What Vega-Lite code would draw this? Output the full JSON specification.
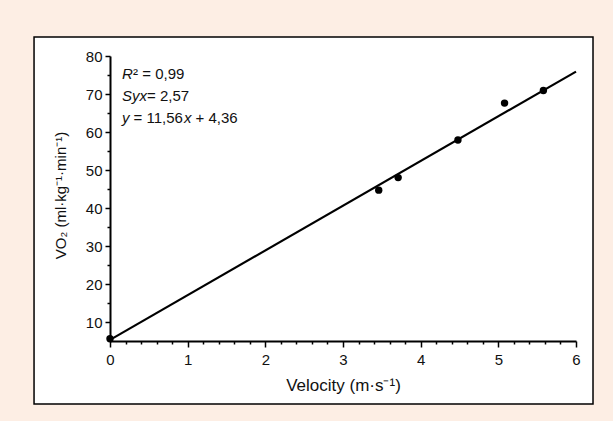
{
  "$schema": "https://vega.github.io/schema/vega-lite/v6.json",
  "width": 466,
  "height": 285,
  "autosize": {"type": "none"},
  "padding": {"left": 110, "top": 56, "right": 37, "bottom": 80},
  "background": "#fdeee4",
  "config": {
    "view": {"stroke": null},
    "font": "Liberation Sans",
    "axis": {
      "grid": false,
      "labelFlush": false,
      "domainColor": "#000000",
      "domainWidth": 2,
      "tickColor": "#000000",
      "tickWidth": 1.5,
      "labelFont": "Liberation Sans",
      "labelFontSize": 15,
      "labelColor": "#111111",
      "titleFont": "Liberation Sans",
      "titleFontSize": 15,
      "titleFontWeight": "normal",
      "titleColor": "#111111"
    }
  },
  "data": {"values": [{"note": "annotation"}]},
  "datasets": {
    "points": [
      {"velocity": 0, "vo2": 5.6},
      {"velocity": 3.46, "vo2": 44.7},
      {"velocity": 3.71, "vo2": 48.0},
      {"velocity": 4.48, "vo2": 57.9},
      {"velocity": 5.08, "vo2": 67.6},
      {"velocity": 5.58, "vo2": 70.9}
    ],
    "fit": [
      {"velocity": 0, "vo2": 5.3},
      {"velocity": 6, "vo2": 75.9}
    ]
  },
  "resolve": {"axis": {"x": "independent", "y": "independent"}},
  "layer": [
    {
      "mark": {"type": "rect", "fill": "#ffffff", "stroke": "#000000", "strokeWidth": 1.5, "clip": false},
      "encoding": {
        "x": {"datum": -0.978, "type": "quantitative", "scale": {"domain": [0, 6], "nice": false, "zero": false}, "axis": null},
        "x2": {"datum": 6.219},
        "y": {"datum": 85.0, "type": "quantitative", "scale": {"domain": [5, 80], "nice": false, "zero": false}, "axis": null},
        "y2": {"datum": -11.58}
      }
    },
    {
      "data": {"name": "fit"},
      "mark": {"type": "line", "color": "#000000", "strokeWidth": 2.2, "clip": false},
      "encoding": {
        "x": {"field": "velocity", "type": "quantitative", "scale": {"domain": [0, 6], "nice": false, "zero": false},
          "axis": {"orient": "bottom", "zindex": 2, "values": [0.2,0.4,0.6,0.8,1.2,1.4,1.6,1.8,2.2,2.4,2.6,2.8,3.2,3.4,3.6,3.8,4.2,4.4,4.6,4.8,5.2,5.4,5.6,5.8], "tickSize": 3, "labels": false, "domain": false, "title": null}},
        "y": {"field": "vo2", "type": "quantitative", "scale": {"domain": [5, 80], "nice": false, "zero": false},
          "axis": {"orient": "left", "zindex": 2, "values": [15,25,35,45,55,65,75], "tickSize": 3, "labels": false, "domain": false, "title": null}}
      }
    },
    {
      "data": {"name": "points"},
      "mark": {"type": "circle", "color": "#000000", "opacity": 1, "size": 55, "clip": false},
      "encoding": {
        "x": {"field": "velocity", "type": "quantitative", "scale": {"domain": [0, 6], "nice": false, "zero": false},
          "axis": {"orient": "bottom", "zindex": 2, "values": [0,1,2,3,4,5,6], "format": "d", "tickSize": 6, "labelPadding": 5, "title": "Velocity (m·s⁻¹)", "titleFontSize": 17, "titlePadding": 10}},
        "y": {"field": "vo2", "type": "quantitative", "scale": {"domain": [5, 80], "nice": false, "zero": false},
          "axis": {"orient": "left", "zindex": 2, "values": [10,20,30,40,50,60,70,80], "format": "d", "tickSize": 5, "labelPadding": 3, "title": "VO₂ (ml·kg⁻¹·min⁻¹)", "titleFontSize": 15, "titleAnchor": "middle", "titleY": 139, "titlePadding": 17}}
      }
    },
    {
      "mark": {"type": "text", "text": "R", "fontStyle": "italic", "fontSize": 15, "align": "left", "baseline": "alphabetic", "color": "#111111", "clip": false},
      "encoding": {
        "x": {"datum": 0.155, "type": "quantitative", "scale": {"domain": [0, 6], "nice": false, "zero": false}, "axis": null},
        "y": {"datum": 73.95, "type": "quantitative", "scale": {"domain": [5, 80], "nice": false, "zero": false}, "axis": null}
      }
    },
    {
      "mark": {"type": "text", "text": "²\u00a0=\u00a00,99", "fontSize": 15, "align": "left", "baseline": "alphabetic", "dx": 11, "color": "#111111", "clip": false},
      "encoding": {
        "x": {"datum": 0.155, "type": "quantitative", "scale": {"domain": [0, 6], "nice": false, "zero": false}, "axis": null},
        "y": {"datum": 73.95, "type": "quantitative", "scale": {"domain": [5, 80], "nice": false, "zero": false}, "axis": null}
      }
    },
    {
      "mark": {"type": "text", "text": "Syx", "fontStyle": "italic", "fontSize": 15, "align": "left", "baseline": "alphabetic", "color": "#111111", "clip": false},
      "encoding": {
        "x": {"datum": 0.155, "type": "quantitative", "scale": {"domain": [0, 6], "nice": false, "zero": false}, "axis": null},
        "y": {"datum": 68.16, "type": "quantitative", "scale": {"domain": [5, 80], "nice": false, "zero": false}, "axis": null}
      }
    },
    {
      "mark": {"type": "text", "text": "=\u00a02,57", "fontSize": 15, "align": "left", "baseline": "alphabetic", "dx": 25, "color": "#111111", "clip": false},
      "encoding": {
        "x": {"datum": 0.155, "type": "quantitative", "scale": {"domain": [0, 6], "nice": false, "zero": false}, "axis": null},
        "y": {"datum": 68.16, "type": "quantitative", "scale": {"domain": [5, 80], "nice": false, "zero": false}, "axis": null}
      }
    },
    {
      "mark": {"type": "text", "text": "y", "fontStyle": "italic", "fontSize": 15, "align": "left", "baseline": "alphabetic", "color": "#111111", "clip": false},
      "encoding": {
        "x": {"datum": 0.155, "type": "quantitative", "scale": {"domain": [0, 6], "nice": false, "zero": false}, "axis": null},
        "y": {"datum": 62.4, "type": "quantitative", "scale": {"domain": [5, 80], "nice": false, "zero": false}, "axis": null}
      }
    },
    {
      "mark": {"type": "text", "text": "=\u00a011,56", "fontSize": 15, "align": "left", "baseline": "alphabetic", "dx": 11.5, "color": "#111111", "clip": false},
      "encoding": {
        "x": {"datum": 0.155, "type": "quantitative", "scale": {"domain": [0, 6], "nice": false, "zero": false}, "axis": null},
        "y": {"datum": 62.4, "type": "quantitative", "scale": {"domain": [5, 80], "nice": false, "zero": false}, "axis": null}
      }
    },
    {
      "mark": {"type": "text", "text": "x", "fontStyle": "italic", "fontSize": 15, "align": "left", "baseline": "alphabetic", "dx": 62, "color": "#111111", "clip": false},
      "encoding": {
        "x": {"datum": 0.155, "type": "quantitative", "scale": {"domain": [0, 6], "nice": false, "zero": false}, "axis": null},
        "y": {"datum": 62.4, "type": "quantitative", "scale": {"domain": [5, 80], "nice": false, "zero": false}, "axis": null}
      }
    },
    {
      "mark": {"type": "text", "text": "+\u00a04,36", "fontSize": 15, "align": "left", "baseline": "alphabetic", "dx": 73.5, "color": "#111111", "clip": false},
      "encoding": {
        "x": {"datum": 0.155, "type": "quantitative", "scale": {"domain": [0, 6], "nice": false, "zero": false}, "axis": null},
        "y": {"datum": 62.4, "type": "quantitative", "scale": {"domain": [5, 80], "nice": false, "zero": false}, "axis": null}
      }
    }
  ]
}
